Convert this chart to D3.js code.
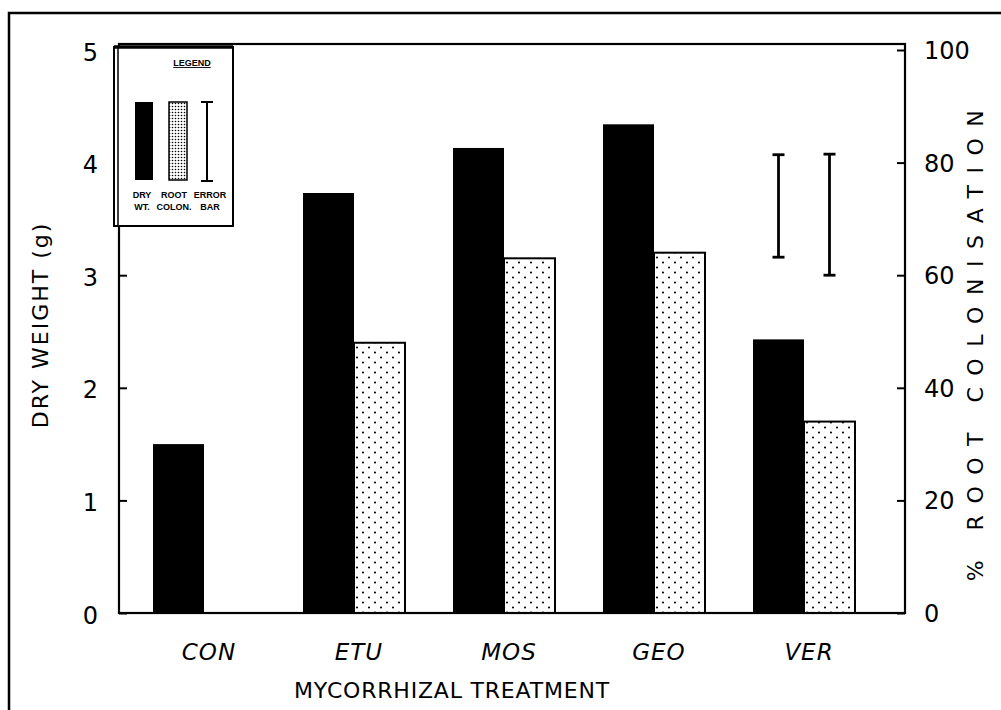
<!DOCTYPE html>
<html>
<head>
<meta charset="utf-8">
<script src="https://cdn.jsdelivr.net/npm/d3@7"></script>
<style>
	body { margin: 0; background: #fff; }
	svg { display: block; }
	.tick text { font-family: "DejaVu Sans", sans-serif; font-size: 24px; fill: #000; }
	.tick line { stroke: #000; stroke-width: 2; }
	.domain { stroke: none; }
	.cat-label { font-family: "DejaVu Sans", sans-serif; font-size: 23px; font-style: oblique; }
	.axis-title { font-family: "DejaVu Sans", sans-serif; font-size: 22px; }
	.legend-text { font-family: "Liberation Sans", Arial, sans-serif; font-size: 9px; font-weight: bold; }
</style>
</head>
<body>
<div class="barchart"></div>
<script>
var categories = ["CON", "ETU", "MOS", "GEO", "VER"];
var dryWeight = [1.5, 3.73, 4.13, 4.34, 2.43];     // g, left axis
var rootColon = [0, 48, 63, 64, 34];               // %, right axis
var leftTicks = [0, 1, 2, 3, 4, 5];
var rightTicks = [0, 20, 40, 60, 80, 100];
var errorDry = [3.16, 4.07];                       // error bar shown over VER
var errorRoot = [60, 81.5];

var width = 1001, height = 710;
var frame = {left: 119, right: 905, top: 44, bottom: 613};
var barW = 51;

var svg = d3.select(".barchart").append("svg")
	.attr("width", width)
	.attr("height", height);

var defs = svg.append("defs");
// stipple used for root colonisation bars
var dots = defs.append("pattern")
	.attr("id", "stipple")
	.attr("patternUnits", "userSpaceOnUse")
	.attr("width", 12).attr("height", 10);
dots.append("rect").attr("width", 12).attr("height", 10).attr("fill", "#fff");
dots.append("circle").attr("cx", 3).attr("cy", 2.5).attr("r", 1.05).attr("fill", "#000");
dots.append("circle").attr("cx", 9).attr("cy", 7.5).attr("r", 1.05).attr("fill", "#000");
// the legend swatch is much finer
var fine = defs.append("pattern")
	.attr("id", "stipple-fine")
	.attr("patternUnits", "userSpaceOnUse")
	.attr("width", 3).attr("height", 3);
fine.append("rect").attr("width", 3).attr("height", 3).attr("fill", "#fff");
fine.append("circle").attr("cx", 1.5).attr("cy", 1.5).attr("r", 0.8).attr("fill", "#000");

var x = d3.scalePoint().domain(categories).range([204, 804]);
var y = d3.scaleLinear().domain([0, 5]).range([frame.bottom, 50]);
var y2 = d3.scaleLinear().domain([0, 100]).range([frame.bottom, 50]);

// outer page border (only top and left survive in the scan)
svg.append("path")
	.attr("d", "M9," + (height + 5) + "L9,13L" + (width + 5) + ",13")
	.attr("fill", "none")
	.attr("stroke", "#000")
	.attr("stroke-width", 2.5);

// bars
svg.selectAll(".dry")
	.data(dryWeight)
	.enter().append("rect")
	.attr("class", "dry")
	.attr("x", function(d, i){ return x(categories[i]) - barW; })
	.attr("y", function(d){ return y(d); })
	.attr("width", barW)
	.attr("height", function(d){ return y(0) - y(d); })
	.attr("fill", "#000");

svg.selectAll(".root")
	.data(rootColon)
	.enter().append("rect")
	.attr("class", "root")
	.attr("x", function(d, i){ return x(categories[i]); })
	.attr("y", function(d){ return y2(d); })
	.attr("width", barW)
	.attr("height", function(d){ return y2(0) - y2(d); })
	.attr("fill", "url(#stipple)")
	.attr("stroke", function(d){ return d > 0 ? "#000" : "none"; })
	.attr("stroke-width", 2);

// plot frame
svg.append("rect")
	.attr("x", frame.left)
	.attr("y", frame.top)
	.attr("width", frame.right - frame.left)
	.attr("height", frame.bottom - frame.top)
	.attr("fill", "none")
	.attr("stroke", "#000")
	.attr("stroke-width", 2.2);

// axes, ticks point inwards
svg.append("g")
	.attr("class", "y axis")
	.attr("transform", "translate(" + frame.left + ",0)")
	.call(d3.axisLeft(y).tickValues(leftTicks).tickFormat(d3.format("d"))
		.tickSizeInner(-8).tickSizeOuter(0).tickPadding(21))
	.selectAll("text").attr("dy", "0.42em");

svg.append("g")
	.attr("class", "y2 axis")
	.attr("transform", "translate(" + frame.right + ",0)")
	.call(d3.axisRight(y2).tickValues(rightTicks).tickFormat(d3.format("d"))
		.tickSizeInner(-8).tickSizeOuter(0).tickPadding(19))
	.selectAll("text").attr("dy", "0.35em");

svg.selectAll(".cat-label")
	.data(categories)
	.enter().append("text")
	.attr("class", "cat-label")
	.attr("x", function(d){ return x(d) + 5; })
	.attr("y", 660)
	.attr("text-anchor", "middle")
	.attr("letter-spacing", 1)
	.text(function(d){ return d; });

svg.append("text")
	.attr("class", "axis-title")
	.attr("x", 452)
	.attr("y", 698)
	.attr("text-anchor", "middle")
	.attr("letter-spacing", 0.8)
	.text("MYCORRHIZAL TREATMENT");

svg.append("text")
	.attr("class", "axis-title")
	.attr("transform", "translate(48,325) rotate(-90)")
	.attr("text-anchor", "middle")
	.attr("letter-spacing", 2)
	.text("DRY WEIGHT (g)");

svg.append("text")
	.attr("class", "axis-title")
	.attr("transform", "translate(983,340) rotate(-90)")
	.attr("text-anchor", "middle")
	.attr("letter-spacing", 11.5)
	.text("% ROOT COLONISATION");

// error bars over VER
function errorBar(g, cx, top, bottom, cap) {
	g.append("line").attr("x1", cx).attr("x2", cx).attr("y1", top).attr("y2", bottom);
	g.append("line").attr("x1", cx - cap).attr("x2", cx + cap).attr("y1", top).attr("y2", top);
	g.append("line").attr("x1", cx - cap).attr("x2", cx + cap).attr("y1", bottom).attr("y2", bottom);
}
var eb = svg.append("g").attr("stroke", "#000").attr("stroke-width", 2.8);
errorBar(eb, x("VER") - barW / 2, y(errorDry[1]), y(errorDry[0]), 6);
errorBar(eb, x("VER") + barW / 2, y2(errorRoot[1]), y2(errorRoot[0]), 6);

// legend
var lg = svg.append("g").attr("class", "legend");
lg.append("rect")
	.attr("x", 114).attr("y", 47)
	.attr("width", 119).attr("height", 179)
	.attr("fill", "#fff")
	.attr("stroke", "#000")
	.attr("stroke-width", 2);
lg.append("line")
	.attr("x1", 114).attr("x2", 233).attr("y1", 47).attr("y2", 47)
	.attr("stroke", "#000").attr("stroke-width", 3.5);
lg.append("line")
	.attr("x1", 118).attr("x2", 118).attr("y1", 47).attr("y2", 226)
	.attr("stroke", "#000").attr("stroke-width", 1.5);
lg.append("text")
	.attr("class", "legend-text")
	.attr("x", 192).attr("y", 66)
	.attr("text-anchor", "middle")
	.attr("text-decoration", "underline")
	.text("LEGEND");
lg.append("rect")
	.attr("x", 135).attr("y", 102).attr("width", 18).attr("height", 78)
	.attr("fill", "#000");
lg.append("rect")
	.attr("x", 169).attr("y", 102).attr("width", 18).attr("height", 78)
	.attr("fill", "url(#stipple-fine)")
	.attr("stroke", "#000").attr("stroke-width", 1.5);
errorBar(lg.append("g").attr("stroke", "#000").attr("stroke-width", 2), 207, 102, 181, 6);

var legendCols = [
	{x: 142, lines: ["DRY", "WT."]},
	{x: 174, lines: ["ROOT", "COLON."]},
	{x: 210, lines: ["ERROR", "BAR"]}
];
legendCols.forEach(function(c){
	c.lines.forEach(function(t, j){
		lg.append("text")
			.attr("class", "legend-text")
			.attr("x", c.x)
			.attr("y", 198 + j * 12)
			.attr("text-anchor", "middle")
			.text(t);
	});
});
</script>
</body>
</html>
